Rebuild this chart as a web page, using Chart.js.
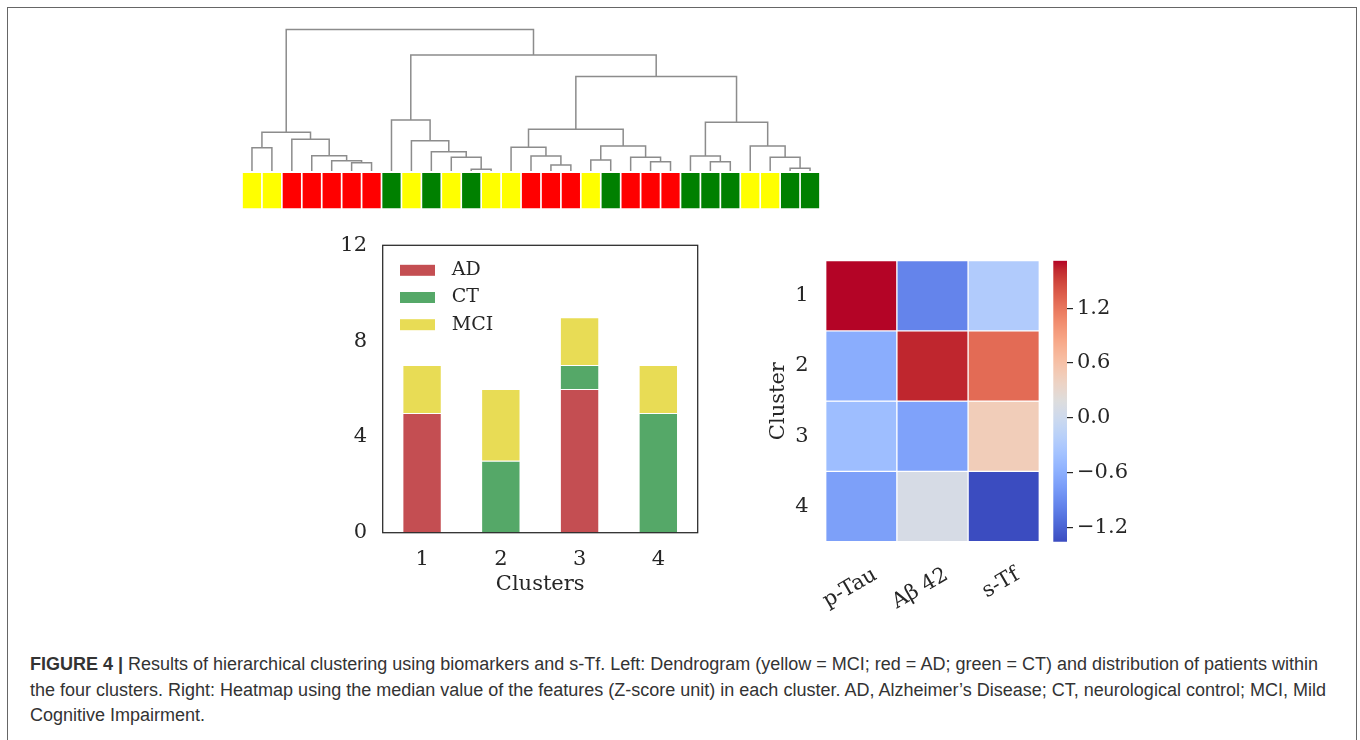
<!DOCTYPE html>
<html>
<head>
<meta charset="utf-8">
<script src="https://cdn.jsdelivr.net/npm/chart.js@4.4.0/dist/chart.umd.min.js"></script>
<style>
    body { margin: 0; background: #fff; width: 1360px; height: 740px; overflow: hidden; position: relative; }
    .frame { position: absolute; left: 7px; top: 7px; width: 1350px; height: 800px; border: 1px solid #666; box-sizing: border-box; }
    canvas { position: absolute; }
    #caption { position: absolute; left: 30px; top: 652px; font: 18px 'Liberation Sans', Arial, sans-serif; line-height: 25.5px; color: #333; white-space: nowrap; }
</style>
</head>
<body>
<div class="frame"></div>
<canvas id="dendro" width="600" height="200" style="left:232px; top:20px; width:600px; height:200px"></canvas>
<canvas id="bars" width="400" height="383" style="left:320px; top:217px; width:400px; height:383px"></canvas>
<canvas id="heat" width="310" height="389" style="left:740px; top:231px; width:310px; height:389px"></canvas>
<canvas id="cbar" width="115" height="320" style="left:1045px; top:240px; width:115px; height:320px"></canvas>
<div id="caption"><b>FIGURE 4 |</b> Results of hierarchical clustering using biomarkers and s-Tf. Left: Dendrogram (yellow = MCI; red = AD; green = CT) and distribution of patients within<br>the four clusters. Right: Heatmap using the median value of the features (Z-score unit) in each cluster. AD, Alzheimer’s Disease; CT, neurological control; MCI, Mild<br>Cognitive Impairment.</div>
<script>
// dendrogram leaves (left to right) and linkage
const leafGroups = ['MCI', 'MCI', 'AD', 'AD', 'AD', 'AD', 'AD', 'CT', 'MCI', 'CT', 'MCI', 'CT', 'MCI', 'MCI', 'AD', 'AD', 'AD', 'MCI', 'CT', 'AD', 'AD', 'AD', 'CT', 'CT', 'CT', 'MCI', 'MCI', 'CT', 'CT']
// node ids: leaves 0..28, merges 29..
const linkA = [5, 4, 3, 2, 0, 33, 11, 10, 9, 8, 7, 15, 14, 13, 17, 20, 19, 43, 42, 23, 22, 27, 26, 25, 49, 47, 39, 34]
const linkB = [6, 29, 30, 31, 1, 32, 12, 35, 36, 37, 38, 16, 40, 41, 18, 21, 44, 45, 46, 24, 48, 28, 50, 51, 52, 53, 54, 55]
const linkH = [8.3, 10.3, 15.3, 31.7, 23.3, 38.7, 1.7, 13.7, 19.3, 30.3, 51, 6, 15, 23.7, 11, 9.3, 13.7, 25, 41.7, 9.3, 15, 2.7, 13.7, 25, 48.7, 94.5, 116, 141.5]

// stacked bars
const clusters = ['1', '2', '3', '4']
const adCounts = [5, 0, 6, 0]
const ctCounts = [0, 3, 1, 5]
const mciCounts = [2, 3, 2, 2]

// heatmap (median z-score per cluster)
const features = ['p-Tau', 'Aβ 42', 's-Tf']
const pTau = [1.72, -0.62, -0.44, -0.73]
const abeta42 = [-0.96, 1.63, -0.71, 0.09]
const sTf = [-0.27, 1.27, 0.46, -1.36]
const colorRange = [-1.36, 1.72]
const colorTicks = [-1.2, -0.6, 0, 0.6, 1.2]

// styles
const stripColor = { MCI: '#ffff00', AD: '#ff0000', CT: '#008000' }
const barColor = { AD: '#c44e52', CT: '#55a868', MCI: '#e8dc55' }
const coolwarmStops = [
    [59, 76, 192], [68, 90, 204], [77, 104, 215], [87, 117, 225], [98, 130, 234], [108, 142, 241],
    [119, 154, 247], [130, 165, 251], [141, 176, 254], [152, 185, 255], [163, 194, 255], [174, 201, 253],
    [184, 208, 249], [194, 213, 244], [204, 217, 238], [213, 219, 230], [221, 221, 221], [229, 216, 209],
    [236, 211, 197], [241, 204, 184], [245, 196, 172], [247, 187, 159], [247, 177, 147], [247, 166, 134],
    [244, 154, 123], [241, 141, 111], [236, 127, 99], [229, 112, 89], [222, 96, 77], [213, 80, 67],
    [203, 62, 56], [192, 40, 47], [180, 4, 38]
]
const textColor = '#262626'
const fontSize = 21

Chart.defaults.font.family = "'DejaVu Serif', serif"
Chart.defaults.color = textColor
Chart.defaults.animation = false
Chart.defaults.plugins.legend.display = false
Chart.defaults.plugins.tooltip.enabled = false

function coolwarm(v) {
    const n = coolwarmStops.length
    let t = (v - colorRange[0]) / (colorRange[1] - colorRange[0])
    t = Math.min(1, Math.max(0, t)) * (n - 1)
    const i = Math.min(Math.floor(t), n - 2)
    const f = t - i
    const a = coolwarmStops[i], b = coolwarmStops[i + 1]
    return 'rgb(' + a.map((c, k) => Math.round(c + (b[k] - c) * f)).join(',') + ')'
}

const boxFrame = {
    id: 'boxFrame',
    afterDraw(chart) {
        const { ctx, chartArea: a } = chart
        ctx.save()
        ctx.strokeStyle = textColor
        ctx.lineWidth = 1.25
        ctx.strokeRect(a.left, a.top, a.right - a.left, a.bottom - a.top)
        ctx.restore()
    }
}

const innerLegend = {
    id: 'innerLegend',
    afterDraw(chart) {
        const { ctx, chartArea: a } = chart
        ctx.save()
        ctx.font = "19px 'DejaVu Serif'"
        ctx.textBaseline = 'middle'
        chart.data.datasets.forEach((ds, i) => {
            const cy = a.top + 25 + i * 27.2
            ctx.fillStyle = ds.backgroundColor
            ctx.fillRect(a.left + 17.3, cy - 5.5, 35, 11)
            ctx.fillStyle = textColor
            ctx.fillText(ds.label, a.left + 69, cy)
        })
        ctx.restore()
    }
}

// dendrogram + colour strip
const nodeX = leafGroups.map((g, i) => i)
const nodeH = leafGroups.map(() => 0)
const dendroSets = []
linkA.forEach((a, k) => {
    const b = linkB[k], h = linkH[k]
    dendroSets.push({
        type: 'line',
        data: [{ x: nodeX[a], y: nodeH[a] }, { x: nodeX[a], y: h }, { x: nodeX[b], y: h }, { x: nodeX[b], y: nodeH[b] }],
        borderColor: '#8c8c8c',
        borderWidth: 1.5,
        pointRadius: 0,
        tension: 0,
        clip: false
    })
    nodeX.push((nodeX[a] + nodeX[b]) / 2)
    nodeH.push(h)
})

new Chart(document.getElementById('dendro'), {
    type: 'bar',
    data: {
        datasets: [{
            type: 'bar',
            data: leafGroups.map((g, i) => ({ x: i, y: [-37.5, -2] })),
            backgroundColor: leafGroups.map(g => stripColor[g]),
            barPercentage: 1,
            categoryPercentage: 0.915
        }].concat(dendroSets)
    },
    options: {
        responsive: false,
        layout: { padding: { left: 10, right: 12, top: 9, bottom: 11.5 } },
        scales: {
            x: { type: 'linear', min: -0.5, max: 28.5, offset: false, display: false },
            y: { type: 'linear', min: -37.5, max: 142, display: false }
        }
    }
})

// stacked bar chart
new Chart(document.getElementById('bars'), {
    type: 'bar',
    data: {
        labels: clusters,
        datasets: [
            { label: 'AD', data: adCounts, backgroundColor: barColor.AD },
            { label: 'CT', data: ctCounts, backgroundColor: barColor.CT },
            { label: 'MCI', data: mciCounts, backgroundColor: barColor.MCI }
        ]
    },
    options: {
        responsive: false,
        layout: { padding: { top: 2, right: 22.3, left: 0, bottom: 0 } },
        datasets: { bar: { barPercentage: 0.5, categoryPercentage: 1, borderColor: '#fff', borderWidth: 1 } },
        scales: {
            x: {
                stacked: true,
                grid: { display: false, drawTicks: false },
                border: { display: false },
                ticks: { font: { size: fontSize }, padding: 14 },
                title: { display: true, text: 'Clusters', font: { size: fontSize }, padding: { top: 0, bottom: 3 } },
                afterFit(s) { s.height = 67.3 }
            },
            y: {
                stacked: true,
                min: 0,
                max: 12,
                ticks: { stepSize: 4, font: { size: fontSize }, padding: 15.7 },
                grid: { display: false, drawTicks: false },
                border: { display: false },
                afterFit(s) { s.width = 62.7 }
            }
        }
    },
    plugins: [boxFrame, innerLegend]
})

// heatmap
const heatRows = clusters.map((c, i) => [pTau[i], abeta42[i], sTf[i]])
new Chart(document.getElementById('heat'), {
    type: 'bar',
    data: {
        labels: features,
        datasets: clusters.map((c, i) => ({
            label: c,
            data: features.map(() => [i, i + 1]),
            backgroundColor: heatRows[i].map(coolwarm),
            borderColor: '#fff',
            borderWidth: 1,
            borderSkipped: false,
            barPercentage: 1,
            categoryPercentage: 1,
            grouped: false
        }))
    },
    options: {
        responsive: false,
        layout: { padding: { top: 11.4, right: 10.7, left: 0, bottom: 0 } },
        scales: {
            x: {
                grid: { display: false, drawTicks: false },
                border: { display: false },
                ticks: { font: { size: fontSize }, minRotation: 30, maxRotation: 30, autoSkip: false, padding: 21, labelOffset: 14 },
                afterFit(s) { s.height = 78.3 }
            },
            y: {
                type: 'linear',
                reverse: true,
                min: 0,
                max: clusters.length,
                grid: { display: false, drawTicks: false },
                border: { display: false },
                afterBuildTicks(s) { s.ticks = clusters.map((c, i) => ({ value: i + 0.5 })) },
                ticks: { autoSkip: false, font: { size: fontSize }, padding: 17, callback: v => clusters[Math.floor(v)] },
                title: { display: true, text: 'Cluster', font: { size: fontSize }, padding: { top: 26, bottom: 0 } },
                afterFit(s) { s.width = 85.7 }
            }
        }
    }
})

// colour bar
new Chart(document.getElementById('cbar'), {
    type: 'bar',
    data: {
        labels: [''],
        datasets: [{
            data: [colorRange],
            barPercentage: 1,
            categoryPercentage: 1,
            borderWidth: 0,
            backgroundColor(c) {
                const chart = c.chart
                if (!chart.chartArea) return 'transparent'
                const y = chart.scales.y
                const g = chart.ctx.createLinearGradient(0, y.getPixelForValue(colorRange[0]), 0, y.getPixelForValue(colorRange[1]))
                coolwarmStops.forEach((s, i) => g.addColorStop(i / (coolwarmStops.length - 1), 'rgb(' + s.join(',') + ')'))
                return g
            }
        }]
    },
    options: {
        responsive: false,
        layout: { padding: { left: 8.3, top: 20.7, bottom: 18.3, right: 0 } },
        scales: {
            x: { display: false },
            y: {
                position: 'right',
                min: colorRange[0],
                max: colorRange[1],
                afterBuildTicks(s) { s.ticks = colorTicks.map(v => ({ value: v })) },
                ticks: { font: { size: fontSize }, padding: 4, callback: v => v.toFixed(1).replace('-', '\u2212') },
                grid: { drawOnChartArea: false, tickLength: 6, color: textColor, lineWidth: 1.2 },
                border: { display: false },
                afterFit(s) { s.width = 93 }
            }
        }
    }
})
</script>
</body>
</html>
